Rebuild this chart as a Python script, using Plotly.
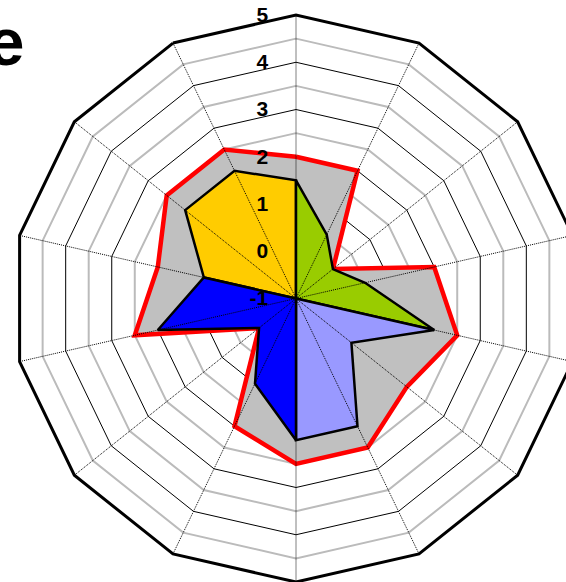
import plotly.graph_objects as go

# ---- data ----
categories = ["C1", "C2", "C3", "C4", "C5", "C6", "C7",
              "C8", "C9", "C10", "C11", "C12", "C13", "C14"]
total_values = [2, 2, 0, 2, 2.5, 2, 2.5, 2.5, 2, 0, 2.5, 2, 2.5, 2.5]

yellow_cats = ["C12", "C13", "C14", "C1"]
yellow_values = [1, 2, 2, 1.5]

green_cats = ["C1", "C2", "C3", "C4", "C5"]
green_values = [1.5, 0.5, 0, 0.5, 2]

lilac_cats = ["C5", "C6", "C7", "C8"]
lilac_values = [2, 0.5, 2, 2]

blue_cats = ["C8", "C9", "C10", "C11", "C12"]
blue_values = [2, 1, 0, 2, 1]

radial_ticks = [-1, 0, 1, 2, 3, 4, 5]
half_rings = [-0.5, 0.5, 1.5, 2.5, 3.5, 4.5]
r_min, r_max = -1, 5

fig = go.Figure()

# minor (half-unit) rings in gray, below the data
for h in half_rings:
    fig.add_trace(go.Scatterpolar(
        r=[h] * (len(categories) + 1),
        theta=categories + [categories[0]],
        mode="lines", line=dict(color="#BBBBBB", width=2),
        hoverinfo="skip", showlegend=False))

# total area (gray fill, red outline)
fig.add_trace(go.Scatterpolar(
    r=total_values + [total_values[0]],
    theta=categories + [categories[0]],
    mode="lines", fill="toself", fillcolor="#C0C0C0",
    line=dict(color="#FF0000", width=4.5), showlegend=False))


def wedge(cats, vals, color):
    fig.add_trace(go.Scatterpolar(
        r=[r_min] + vals + [r_min],
        theta=[cats[0]] + cats + [cats[0]],
        mode="lines", fill="toself", fillcolor=color,
        line=dict(color="black", width=2.5), showlegend=False))


wedge(yellow_cats, yellow_values, "#FFCC00")
wedge(green_cats, green_values, "#99CC00")
wedge(lilac_cats, lilac_values, "#9999FF")
wedge(blue_cats, blue_values, "#0000FF")

# spokes drawn above the data
for c in categories:
    fig.add_trace(go.Scatterpolar(
        r=[r_min, r_max], theta=[c, c], mode="lines",
        line=dict(color="black", width=1, dash="1px,1px"),
        hoverinfo="skip", showlegend=False))

W, H = 592, 582
fig.update_layout(
    width=W, height=H,
    margin=dict(l=12, r=12, t=15, b=0),
    paper_bgcolor="white",
    showlegend=False,
    title=dict(text="e", xref="container", yref="container",
               x=24.5 / W, xanchor="right", y=1 - 42 / H, yanchor="middle",
               font=dict(family="Liberation Sans, Arial", size=67,
                         color="black", weight="bold")),
    polar=dict(
        bgcolor="white",
        gridshape="linear",
        angularaxis=dict(type="category", categoryorder="array",
                         categoryarray=categories,
                         direction="clockwise", rotation=90,
                         showticklabels=False, ticks="", showgrid=False,
                         showline=True, linecolor="black", linewidth=3),
        radialaxis=dict(range=[r_min, r_max], angle=90,
                        side="counterclockwise", tickangle=90,
                        tickvals=radial_ticks,
                        ticktext=[str(t) for t in radial_ticks],
                        showline=False, ticks="outside", ticklen=20,
                        tickcolor="rgba(0,0,0,0)",
                        showgrid=True, gridcolor="black", gridwidth=1,
                        tickfont=dict(family="Liberation Sans, Arial",
                                      size=21, color="black",
                                      weight="bold")),
    ),
)

fig.write_html("out.html", config={"displayModeBar": False}, post_script=(
    "document.body.style.margin='0';"
    "document.documentElement.style.overflow='hidden';"
    "document.body.style.overflow='hidden';"))
